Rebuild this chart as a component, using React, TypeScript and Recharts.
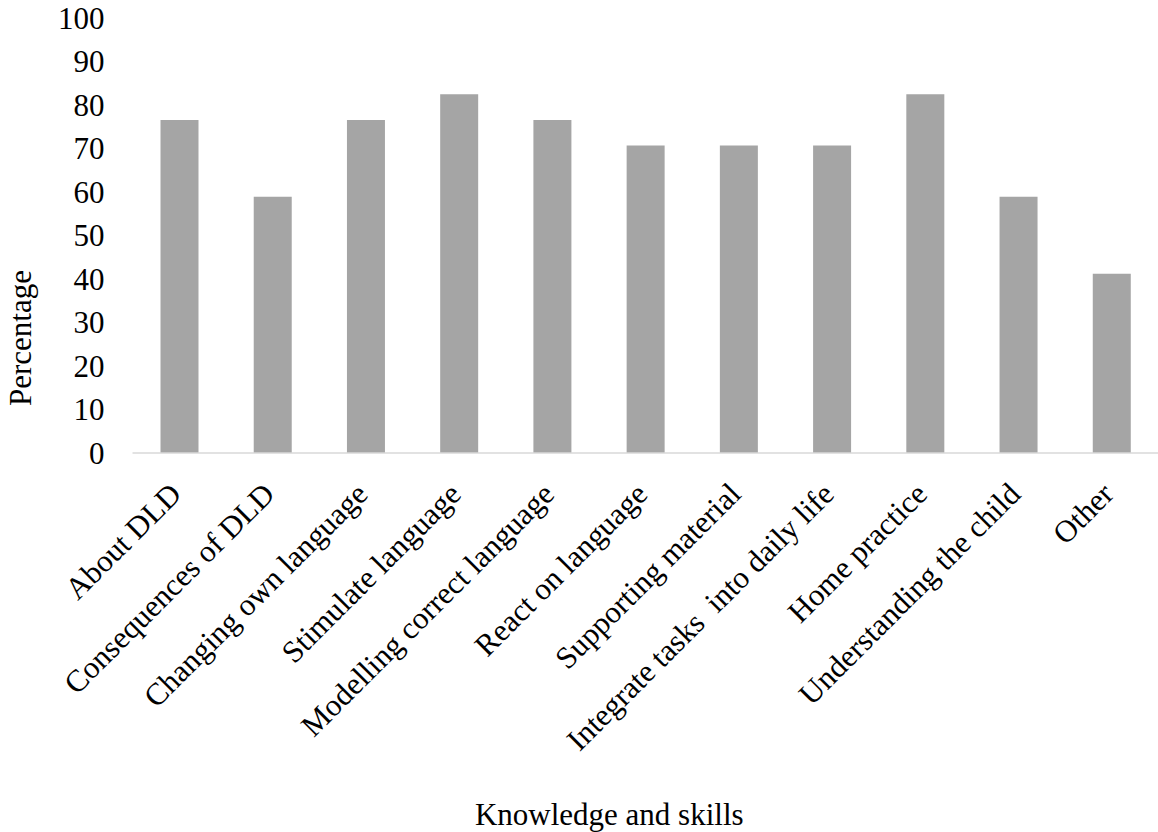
import React from 'react';
import { BarChart, Bar, XAxis, YAxis } from 'recharts';

// Share of respondents (%) per knowledge/skill topic
const categories = [
  'About DLD',
  'Consequences of DLD',
  'Changing own language',
  'Stimulate language',
  'Modelling correct language',
  'React on language',
  'Supporting material',
  'Integrate tasks  into daily life',
  'Home practice',
  'Understanding the child',
  'Other',
];
const percentages = [76.47, 58.82, 76.47, 82.35, 76.47, 70.59, 70.59, 70.59, 82.35, 58.82, 41.18];
const yTicks = [0, 10, 20, 30, 40, 50, 60, 70, 80, 90, 100];

const data = categories.map((name, i) => ({ name, value: percentages[i] }));

const FONT = '"Liberation Serif", "Times New Roman", serif';
const FONT_SIZE = 31;

const CategoryTick = (props: any) => {
  const { x, y, payload } = props;
  const ax = x + 4;
  const ay = y + 43;
  return (
    <text
      x={ax}
      y={ay}
      transform={`rotate(-45, ${ax}, ${ay})`}
      textAnchor="end"
      fontFamily={FONT}
      fontSize={FONT_SIZE}
      fill="#000"
      style={{ whiteSpace: 'pre' }}
    >
      {payload.value}
    </text>
  );
};

const YTitle = () => (
  <text
    x={31}
    y={338}
    transform="rotate(-90, 31, 338)"
    textAnchor="middle"
    fontFamily={FONT}
    fontSize={FONT_SIZE}
    fill="#000"
  >
    Percentage
  </text>
);

export default function App() {
  return (
    <div style={{ position: 'absolute', left: 0, top: 0, width: 1158, height: 832, background: '#fff' }}>
      <BarChart
        width={1158}
        height={832}
        data={data}
        margin={{ top: 17.5, right: 0, bottom: 0, left: 0 }}
      >
        <XAxis
          dataKey="name"
          interval={0}
          height={379}
          tickSize={0}
          tickMargin={0}
          tickLine={false}
          axisLine={{ stroke: '#d9d9d9', strokeWidth: 1.5 }}
          tick={<CategoryTick />}
          label={{
            value: 'Knowledge and skills',
            position: 'insideBottom',
            offset: 7,
            dx: -36,
            fontFamily: FONT,
            fontSize: FONT_SIZE,
            fill: '#000',
          }}
        />
        <YAxis
          width={132.5}
          domain={[0, 100]}
          ticks={yTicks}
          interval={0}
          axisLine={false}
          tickLine={false}
          tickSize={0}
          tickMargin={28}
          tick={{ fontFamily: FONT, fontSize: FONT_SIZE, fill: '#000' }}
          label={<YTitle />}
        />
        <Bar dataKey="value" fill="#a5a5a5" barSize={38} isAnimationActive={false} />
      </BarChart>
    </div>
  );
}
